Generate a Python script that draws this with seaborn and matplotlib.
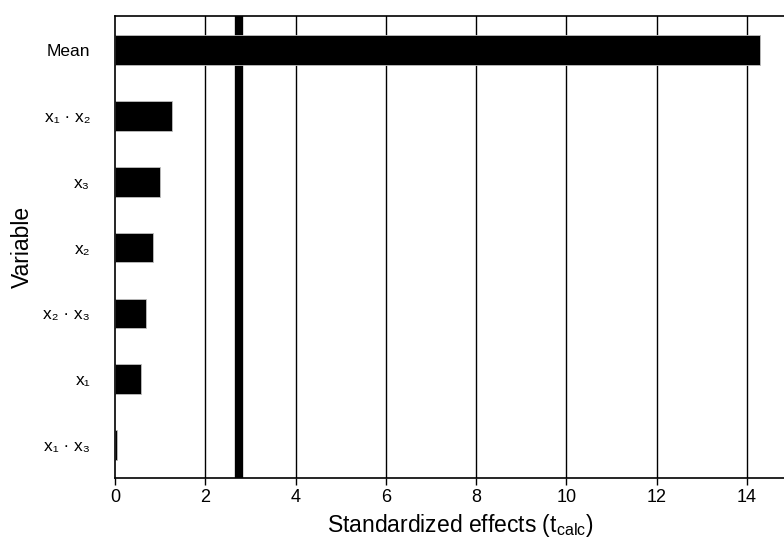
import matplotlib
matplotlib.use("Agg")
import matplotlib.pyplot as plt
import seaborn as sns
import pandas as pd

# Pareto chart of standardized effects
variables = ["Mean", "x₁ · x₂", "x₃", "x₂", "x₂ · x₃", "x₁", "x₁ · x₃"]
effects = [14.29, 1.26, 1.00, 0.84, 0.69, 0.58, 0.04]
t_critical = 2.75
xticks = [0, 2, 4, 6, 8, 10, 12, 14]

df = pd.DataFrame({"Variable": variables, "Effect": effects})

sns.set_style("ticks")
plt.rcParams["font.family"] = ["Liberation Sans", "DejaVu Sans"]
plt.rcParams["mathtext.fontset"] = "custom"
plt.rcParams["mathtext.rm"] = "Liberation Sans"
plt.rcParams["mathtext.it"] = "Liberation Sans:italic"

fig = plt.figure(figsize=(7.84, 5.43), dpi=100)
# axes runs a little past the right edge of the figure, as in the reference
ax = fig.add_axes([115 / 784, 65 / 543, 690 / 784, 462 / 543])

for xv in xticks[1:]:
    ax.axvline(xv, color="black", lw=1.0, zorder=0)
ax.axvline(t_critical, color="black", lw=6, zorder=1)

sns.barplot(data=df, x="Effect", y="Variable", color="black", width=0.45,
            orient="h", ax=ax, zorder=2, edgecolor="0.75", linewidth=0.6)

ax.set_xlim(0, max(effects) * 1.07)
ax.set_ylim(6.5, -0.52)
ax.set_xticks(xticks)
ax.tick_params(axis="x", labelsize=13, length=5, width=1, colors="black", pad=3)
ax.tick_params(axis="y", labelsize=12.5, length=0, pad=18, colors="black")
ax.set_xlabel(r"Standardized effects ($\mathregular{t_{calc}}$)", fontsize=16.5,
              color="black", labelpad=4)
ax.set_ylabel("Variable", fontsize=16.5, color="black", labelpad=6.5)
for s in ax.spines.values():
    s.set_color("black")
    s.set_linewidth(1.2)

fig.savefig("out.png", dpi=100)
